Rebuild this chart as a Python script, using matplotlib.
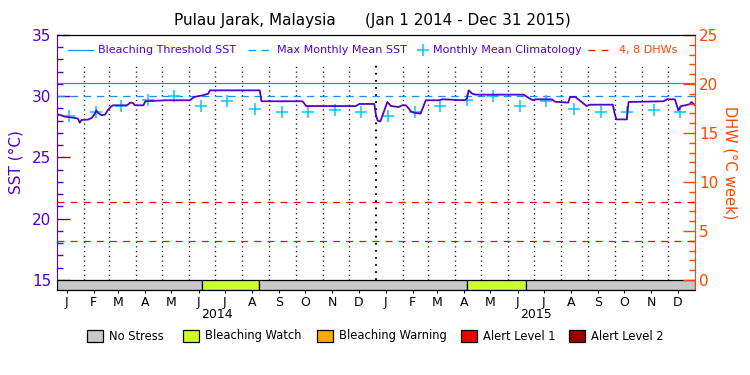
import numpy as np
import matplotlib.pyplot as plt
import matplotlib.dates as mdates
from matplotlib.lines import Line2D
from matplotlib.patches import Rectangle

# daily SST (day offset from Jan 1 2014, deg C)
sst_day = [0, 3, 9, 21, 24, 26, 28, 36, 40, 43, 45, 47, 51, 55, 58, 61, 64, 80,
           84, 87, 89, 99, 101, 124, 152, 157, 167, 173, 175, 232, 234, 281, 285,
           342, 346, 363, 365, 367, 370, 378, 382, 391, 395, 399, 401, 405, 408,
           414, 416, 422, 437, 441, 466, 469, 471, 475, 479, 534, 541, 545, 547,
           566, 570, 585, 587, 593, 599, 606, 610, 636, 638, 640, 652, 654, 694,
           698, 707, 711, 714, 719, 724, 726, 730]
sst_val = [28.49, 28.49, 28.33, 28.22, 28.17, 27.84, 28.06, 28.10, 28.25, 28.55,
           28.85, 28.63, 28.45, 28.50, 28.85, 29.10, 29.26, 29.26, 29.48, 29.45,
           29.26, 29.26, 29.59, 29.67, 29.67, 29.94, 30.08, 30.21, 30.48, 30.48,
           29.59, 29.59, 29.20, 29.20, 29.37, 29.37, 28.44, 28.00, 27.95, 29.53,
           29.20, 29.12, 29.26, 29.26, 29.12, 28.77, 28.66, 28.60, 28.58, 29.67,
           29.67, 29.75, 29.67, 29.80, 30.48, 30.21, 30.13, 30.13, 29.80, 29.67,
           29.75, 29.75, 29.55, 29.48, 29.94, 29.94, 29.60, 29.20, 29.31, 29.31,
           28.60, 28.11, 28.11, 29.53, 29.59, 29.75, 29.75, 28.85, 29.20, 29.26,
           29.35, 29.53, 29.26]

# monthly mean climatology (same for each year)
clim_val = [28.40, 28.70, 29.20, 29.70, 30.05, 29.20, 29.65, 28.95, 28.75, 28.70, 28.85, 28.70]
years = [2014, 2015]
month_letters = ['J', 'F', 'M', 'A', 'M', 'J', 'J', 'A', 'S', 'O', 'N', 'D']

mmm = 30.05
threshold = 31.05
dhw_levels = [4, 8]

# stress level bar
status_start = ['2014-01-01', '2014-06-16', '2014-08-20', '2015-04-15', '2015-06-22']
status_end = ['2014-06-16', '2014-08-20', '2015-04-15', '2015-06-22', '2016-01-01']
status_name = ['No Stress', 'Bleaching Watch', 'No Stress', 'Bleaching Watch', 'No Stress']

legend_names = ['No Stress', 'Bleaching Watch', 'Bleaching Warning', 'Alert Level 1', 'Alert Level 2']
legend_colors = ['#c8c8c8', '#ccff33', '#ffaa00', '#ee0000', '#990000']
status_colors = dict(zip(legend_names, legend_colors))

PURPLE = '#5500c8'
BLUE = '#1e8fe6'
CYAN = '#00c8ff'
RED = '#ff0000'
ORANGE = '#ff4500'

W, H = 750, 375
def fx(x):
    return x / W
def fy(y):
    return 1 - y / H

fig = plt.figure(figsize=(7.5, 3.75), dpi=100)
ax = fig.add_axes([fx(57), fy(290), (695 - 57) / W, (290 - 35) / H])

x0 = np.datetime64('2014-01-01')
ymin = 14.18
ax.set_xlim(mdates.date2num(x0), mdates.date2num(np.datetime64('2016-01-01')))
ax.set_ylim(ymin, 35)

# month boundary dotted lines
for y in years:
    for m in range(1, 13):
        d = np.datetime64(f'{y}-{m:02d}-01')
        if d == x0:
            continue
        lw = 1.5 if m == 1 else 1.0
        ax.vlines(mdates.date2num(d), 15, 32.7, colors='black',
                  linestyles=(0, (0.8, 2.6)), linewidth=lw, zorder=1)

# threshold, MMM
ax.axhline(threshold, color=BLUE, lw=0.9, zorder=2)
ax.axhline(mmm, color=BLUE, lw=0.9, ls=(0, (6, 4.5)), zorder=2)

# climatology
clim_x = []
clim_y = []
for y in years:
    for m in range(12):
        clim_x.append(mdates.date2num(np.datetime64(f'{y}-{m + 1:02d}-01') + np.timedelta64(14, 'D')))
        clim_y.append(clim_val[m])
ax.plot(clim_x, clim_y, ls='none', marker='+', ms=9, mew=1.1, color=CYAN, zorder=3)

# SST
sst_x = mdates.date2num(x0 + np.array(sst_day).astype('timedelta64[D]'))
ax.plot(sst_x, sst_val, color=PURPLE, lw=1.3, zorder=4)

# status bar
frac = (15 - ymin) / (35 - ymin)
for s, e, n in zip(status_start, status_end, status_name):
    ax.axvspan(mdates.date2num(np.datetime64(s)), mdates.date2num(np.datetime64(e)),
               ymin=0, ymax=frac, facecolor=status_colors[n], edgecolor='black',
               lw=0.9, zorder=5)

# left axis
ax.set_yticks([15, 20, 25, 30, 35])
ax.set_yticks(np.arange(15, 35, 1), minor=True)
ax.tick_params(axis='y', which='major', direction='in', length=9, width=1,
               colors=PURPLE, labelsize=11, pad=4)
ax.tick_params(axis='y', which='minor', direction='in', length=4.5, width=1, colors=PURPLE)
ax.spines['left'].set_color(PURPLE)
ax.spines['right'].set_visible(False)
ax.set_ylabel('SST (°C)', color=PURPLE, fontsize=11, labelpad=6)

# month labels
mid_x = []
labels = []
for y in years:
    for m in range(12):
        mid_x.append(mdates.date2num(np.datetime64(f'{y}-{m + 1:02d}-01') + np.timedelta64(11, 'D')))
        labels.append(month_letters[m])
ax.set_xticks(mid_x)
ax.set_xticklabels(labels)
ax.tick_params(axis='x', direction='out', length=2, width=0.8, labelsize=9, pad=2)
ax.xaxis.set_minor_locator(plt.NullLocator())

for y, xp in zip(years, [217, 536]):
    fig.text(fx(xp), fy(314), str(y), ha='center', va='center', fontsize=9)

# right axis (DHW)
ax2 = ax.twinx()
ax2.set_ylim((ymin - 15) * 1.25, 25)
for lvl in dhw_levels:
    ax2.axhline(lvl, color=RED, lw=0.9, ls=(0, (5.5, 5)), zorder=2)
ax2.set_yticks([0, 5, 10, 15, 20, 25])
ax2.set_yticks(np.arange(0, 25, 1), minor=True)
ax2.tick_params(axis='y', which='major', direction='in', length=9, width=1,
                colors=ORANGE, labelsize=11, pad=3)
ax2.tick_params(axis='y', which='minor', direction='in', length=4.5, width=1, colors=ORANGE)
ax2.spines['right'].set_color(ORANGE)
ax2.spines['left'].set_visible(False)
ax2.set_ylabel('DHW (°C week)', color=ORANGE, fontsize=10.5, rotation=-90, labelpad=14)

# title
fig.text(fx(372), fy(21), 'Pulau Jarak, Malaysia      (Jan 1 2014 - Dec 31 2015)',
         ha='center', va='center', fontsize=11)

# top legend
ly = fy(50)
fs = 8
fig.add_artist(Line2D([fx(68), fx(93)], [ly, ly], color=BLUE, lw=0.9))
fig.text(fx(98), ly, 'Bleaching Threshold SST', color=PURPLE, va='center', fontsize=fs)
fig.add_artist(Line2D([fx(248), fx(270)], [ly, ly], color=BLUE, lw=0.9, ls=(0, (6, 4.5))))
fig.text(fx(277), ly, 'Max Monthly Mean SST', color=PURPLE, va='center', fontsize=fs)
fig.add_artist(Line2D([fx(423)], [ly], color=CYAN, marker='+', ms=9, mew=1.1, ls='none'))
fig.text(fx(433), ly, 'Monthly Mean Climatology', color=PURPLE, va='center', fontsize=fs)
fig.add_artist(Line2D([fx(588), fx(613)], [ly, ly], color=RED, lw=0.9, ls=(0, (5.5, 5))))
fig.text(fx(619), ly, '4, 8 DHWs', color=ORANGE, va='center', fontsize=fs)

# bottom legend
for name, col, bx in zip(legend_names, legend_colors, [87, 183, 317, 461, 569]):
    fig.add_artist(Rectangle((fx(bx), fy(342)), 16 / W, 12 / H, transform=fig.transFigure,
                             facecolor=col, edgecolor='black', lw=0.9))
    fig.text(fx(bx + 22), fy(336), name, va='center', fontsize=8.3)

fig.savefig('out.png', dpi=100)
